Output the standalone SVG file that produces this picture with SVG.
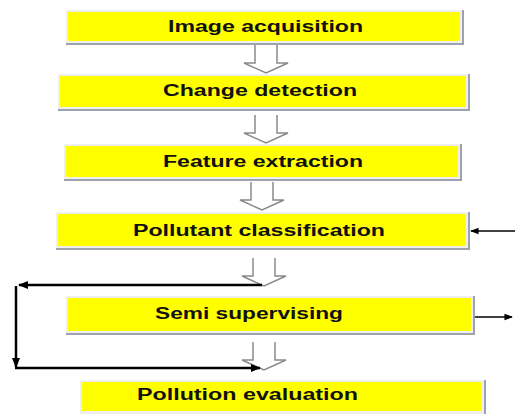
<svg xmlns="http://www.w3.org/2000/svg" width="516" height="414" viewBox="0 0 516 414">
<defs>
<style>
.frame{fill:#efefef}
.shade{fill:none;stroke:#9ea2ad;stroke-width:2}
.fill{fill:#ffff00}
.lbl{font-family:"Liberation Sans",Arial,sans-serif;font-weight:bold;font-size:16px;fill:#111}
.blk{fill:#fff;stroke:#8a8a8a;stroke-width:1.5;stroke-linejoin:miter}
.fb{fill:none;stroke:#000;stroke-width:2.5}
.thin{fill:none;stroke:#000;stroke-width:1.4}
</style>
<marker id="ah" viewBox="0 0 10 10" refX="9" refY="5" markerWidth="4" markerHeight="4" orient="auto" markerUnits="strokeWidth">
<path d="M0,1 L10,5 L0,9 Z" fill="#000"/>
</marker>
<marker id="ahs" viewBox="0 0 10 10" refX="9" refY="5" markerWidth="6" markerHeight="6" orient="auto" markerUnits="strokeWidth">
<path d="M0,1 L10,5 L0,9 Z" fill="#000"/>
</marker>
</defs>
<rect width="516" height="414" fill="#fff"/>

<g id="n1">
<rect class="frame" x="66" y="10" width="397" height="34"/>
<path class="shade" d="M463,10 V44 H66"/>
<rect class="fill" x="68" y="12" width="392" height="29"/>
<text class="lbl" x="168" y="32" textLength="195" lengthAdjust="spacingAndGlyphs">Image acquisition</text>
</g>
<g id="n2">
<rect class="frame" x="58" y="74" width="411" height="36"/>
<path class="shade" d="M469,74 V110 H58"/>
<rect class="fill" x="60" y="76" width="406" height="31"/>
<text class="lbl" x="163" y="96" textLength="194" lengthAdjust="spacingAndGlyphs">Change detection</text>
</g>
<g id="n3">
<rect class="frame" x="64" y="144" width="397" height="36"/>
<path class="shade" d="M461,144 V180 H64"/>
<rect class="fill" x="66" y="146" width="392" height="31"/>
<text class="lbl" x="163" y="167" textLength="200" lengthAdjust="spacingAndGlyphs">Feature extraction</text>
</g>
<g id="n4">
<rect class="frame" x="56" y="212" width="413" height="37"/>
<path class="shade" d="M469,212 V249 H56"/>
<rect class="fill" x="58" y="214" width="408" height="32"/>
<text class="lbl" x="133" y="236" textLength="252" lengthAdjust="spacingAndGlyphs">Pollutant classification</text>
</g>
<g id="n5">
<rect class="frame" x="66" y="296" width="408" height="38"/>
<path class="shade" d="M474,296 V334 H66"/>
<rect class="fill" x="68" y="298" width="403" height="33"/>
<text class="lbl" x="155" y="319" textLength="188" lengthAdjust="spacingAndGlyphs">Semi supervising</text>
</g>
<g id="n6">
<rect class="frame" x="80" y="380" width="405" height="34"/>
<path class="shade" d="M485,380 V414"/>
<rect class="fill" x="82" y="382" width="400" height="29"/>
<text class="lbl" x="137" y="400" textLength="221" lengthAdjust="spacingAndGlyphs">Pollution evaluation</text>
</g>

<g id="connectors">
<path class="blk" d="M255,45 V63 H244 L266,73 L288,63 H277 V45"/>
<path class="blk" d="M255,115 V133 H244 L266,143 L288,133 H277 V115"/>
<path class="blk" d="M251,182 V200 H240 L262,210 L284,200 H273 V182"/>
<path class="blk" d="M253,258 V276 H242 L264,286 L286,276 H275 V258"/>
<path class="blk" d="M253,342 V360 H242 L264,370 L286,360 H275 V342"/>

<path class="fb" d="M262,285 H19" marker-end="url(#ah)"/>
<path class="fb" d="M16,286 V367" marker-end="url(#ah)"/>
<path class="fb" d="M15,368 H260" marker-end="url(#ah)"/>

<path class="thin" d="M515,231 H471" marker-end="url(#ahs)"/>
<path class="thin" d="M475,317 H512" marker-end="url(#ahs)"/>
</g>
</svg>
